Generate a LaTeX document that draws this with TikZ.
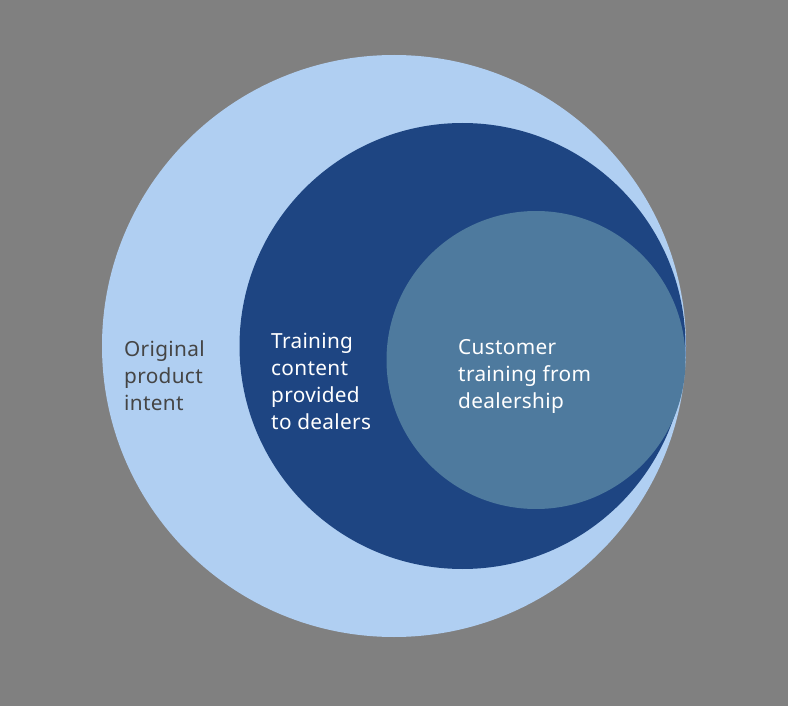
\documentclass[tikz,border=0pt]{standalone}
\usepackage{fontspec}
\setmainfont{Noto Sans}[LetterSpace=1.5]
\definecolor{bg}{HTML}{808080}
\definecolor{lightblue}{HTML}{B0CFF2}
\definecolor{darkblue}{HTML}{1E4582}
\definecolor{midblue}{HTML}{4E7A9E}
\definecolor{textgray}{HTML}{454545}
\begin{document}
\begin{tikzpicture}[x=1pt,y=-1pt,
  lbl/.style={anchor=west,align=left,inner sep=0pt,font=\fontsize{20.8}{27}\selectfont}]
\fill[bg] (0,0) rectangle (788,706);
\useasboundingbox (0,0) rectangle (788,706);
\fill[lightblue] (394,346) ellipse [x radius=292, y radius=291];
\fill[darkblue] (462.5,346) ellipse [x radius=223, y radius=223];
\fill[midblue] (536,360) ellipse [x radius=149.5, y radius=149];
\node[lbl,text=textgray] (outer) at (124,376) {Original\\product\\intent};
\node[lbl,text=white] (middle) at (271,381.5) {Training\\content\\provided\\to dealers};
\node[lbl,text=white] (inner) at (458,376) {Customer\\training from\\dealership};
\end{tikzpicture}
\end{document}
